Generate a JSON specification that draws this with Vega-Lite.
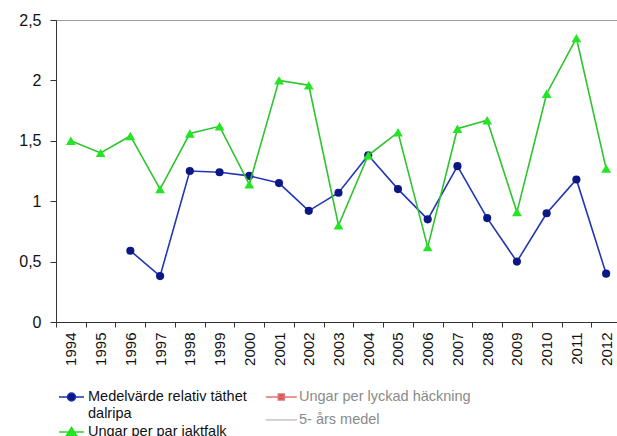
{
  "$schema": "https://vega.github.io/schema/vega-lite/v6.json",
  "width": 565,
  "height": 302,
  "autosize": {"type": "none"},
  "padding": {"left": 56, "top": 20, "right": -4, "bottom": 114},
  "background": "white",
  "config": {
    "font": "Liberation Sans",
    "view": {"stroke": "#a0a0a0", "strokeWidth": 1},
    "style": {"guide-label": {"lineHeight": 17}}
  },
  "resolve": {"scale": {"color": "independent", "shape": "independent", "stroke": "independent"}},
  "data": {
    "values": [
      {"year": "1996", "series": "Medelvärde relativ täthet dalripa", "value": 0.59},
      {"year": "1997", "series": "Medelvärde relativ täthet dalripa", "value": 0.38},
      {"year": "1998", "series": "Medelvärde relativ täthet dalripa", "value": 1.25},
      {"year": "1999", "series": "Medelvärde relativ täthet dalripa", "value": 1.24},
      {"year": "2000", "series": "Medelvärde relativ täthet dalripa", "value": 1.21},
      {"year": "2001", "series": "Medelvärde relativ täthet dalripa", "value": 1.15},
      {"year": "2002", "series": "Medelvärde relativ täthet dalripa", "value": 0.92},
      {"year": "2003", "series": "Medelvärde relativ täthet dalripa", "value": 1.07},
      {"year": "2004", "series": "Medelvärde relativ täthet dalripa", "value": 1.38},
      {"year": "2005", "series": "Medelvärde relativ täthet dalripa", "value": 1.10},
      {"year": "2006", "series": "Medelvärde relativ täthet dalripa", "value": 0.85},
      {"year": "2007", "series": "Medelvärde relativ täthet dalripa", "value": 1.29},
      {"year": "2008", "series": "Medelvärde relativ täthet dalripa", "value": 0.86},
      {"year": "2009", "series": "Medelvärde relativ täthet dalripa", "value": 0.50},
      {"year": "2010", "series": "Medelvärde relativ täthet dalripa", "value": 0.90},
      {"year": "2011", "series": "Medelvärde relativ täthet dalripa", "value": 1.18},
      {"year": "2012", "series": "Medelvärde relativ täthet dalripa", "value": 0.40},
      {"year": "1994", "series": "Ungar per par jaktfalk", "value": 1.50},
      {"year": "1995", "series": "Ungar per par jaktfalk", "value": 1.40},
      {"year": "1996", "series": "Ungar per par jaktfalk", "value": 1.54},
      {"year": "1997", "series": "Ungar per par jaktfalk", "value": 1.10},
      {"year": "1998", "series": "Ungar per par jaktfalk", "value": 1.56},
      {"year": "1999", "series": "Ungar per par jaktfalk", "value": 1.62},
      {"year": "2000", "series": "Ungar per par jaktfalk", "value": 1.14},
      {"year": "2001", "series": "Ungar per par jaktfalk", "value": 2.00},
      {"year": "2002", "series": "Ungar per par jaktfalk", "value": 1.96},
      {"year": "2003", "series": "Ungar per par jaktfalk", "value": 0.80},
      {"year": "2004", "series": "Ungar per par jaktfalk", "value": 1.38},
      {"year": "2005", "series": "Ungar per par jaktfalk", "value": 1.57},
      {"year": "2006", "series": "Ungar per par jaktfalk", "value": 0.62},
      {"year": "2007", "series": "Ungar per par jaktfalk", "value": 1.60},
      {"year": "2008", "series": "Ungar per par jaktfalk", "value": 1.67},
      {"year": "2009", "series": "Ungar per par jaktfalk", "value": 0.91},
      {"year": "2010", "series": "Ungar per par jaktfalk", "value": 1.89},
      {"year": "2011", "series": "Ungar per par jaktfalk", "value": 2.35},
      {"year": "2012", "series": "Ungar per par jaktfalk", "value": 1.27}
    ]
  },
  "layer": [
    {
      "transform": [{"filter": "datum.series == 'Medelvärde relativ täthet dalripa'"}],
      "mark": {"type": "line", "strokeWidth": 1.6, "color": "#2236b6"},
      "encoding": {
        "x": {
          "field": "year", "type": "ordinal",
          "scale": {"type": "band", "paddingInner": 0, "paddingOuter": 0,
            "domain": ["1994","1995","1996","1997","1998","1999","2000","2001","2002","2003","2004","2005","2006","2007","2008","2009","2010","2011","2012"]},
          "axis": {
            "title": null, "labelAngle": 270, "tickBand": "extent", "tickSize": 5,
            "labelPadding": 5, "labelFontSize": 15, "labelColor": "#111",
            "labelFont": "Liberation Sans", "domainColor": "#333", "tickColor": "#333",
            "grid": false
          }
        },
        "y": {
          "field": "value", "type": "quantitative",
          "scale": {"domain": [0, 2.5], "nice": false, "zero": true},
          "axis": {
            "title": null, "values": [0, 0.5, 1, 1.5, 2, 2.5],
            "labelExpr": "replace(format(datum.value, '~g'), '.', ',')",
            "tickSize": 6, "labelPadding": 9, "labelFontSize": 16, "labelColor": "#111",
            "labelFont": "Liberation Sans", "domainColor": "#333", "tickColor": "#333",
            "grid": false
          }
        }
      }
    },
    {
      "transform": [{"filter": "datum.series == 'Medelvärde relativ täthet dalripa'"}],
      "mark": {"type": "point", "shape": "circle", "filled": true, "opacity": 1, "color": "#0b1785", "size": 66, "strokeWidth": 0},
      "encoding": {
        "x": {"field": "year", "type": "ordinal"},
        "y": {"field": "value", "type": "quantitative"}
      }
    },
    {
      "transform": [{"filter": "datum.series == 'Ungar per par jaktfalk'"}],
      "mark": {"type": "line", "strokeWidth": 1.6, "color": "#2ec42e"},
      "encoding": {
        "x": {"field": "year", "type": "ordinal"},
        "y": {"field": "value", "type": "quantitative"}
      }
    },
    {
      "transform": [{"filter": "datum.series == 'Ungar per par jaktfalk'"}],
      "mark": {"type": "point", "shape": "triangle-up", "filled": true, "opacity": 1, "color": "#22e622", "size": 95, "strokeWidth": 0},
      "encoding": {
        "x": {"field": "year", "type": "ordinal"},
        "y": {"field": "value", "type": "quantitative"}
      }
    },
    {
      "transform": [{"filter": "false"}],
      "mark": {"type": "point", "filled": true, "opacity": 1, "strokeWidth": 1.5},
      "encoding": {
        "color": {
          "field": "series", "type": "nominal",
          "scale": {"domain": ["Medelvärde relativ täthet dalripa", "Ungar per par jaktfalk"], "range": ["#0b1785", "#22ee22"]},
          "legend": {
            "title": null, "orient": "none", "legendX": 4.5, "legendY": 366,
            "direction": "vertical", "padding": 0, "symbolSize": 400,
            "symbolStrokeWidth": 1.5, "symbolOpacity": 1,
            "labelFont": "Liberation Sans", "labelFontSize": 14.5, "labelColor": "#111",
            "labelOffset": 5.5, "labelLimit": 400, "rowPadding": 0,
            "labelExpr": "datum.label == 'Medelvärde relativ täthet dalripa' ? ['Medelvärde relativ täthet', 'dalripa'] : datum.label"
          }
        },
        "shape": {
          "field": "series", "type": "nominal",
          "scale": {"domain": ["Medelvärde relativ täthet dalripa", "Ungar per par jaktfalk"],
            "range": ["M-1.25,0H-0.4M0.4,0H1.25M0.4,0A0.4,0.4 0 1,1 -0.4,0A0.4,0.4 0 1,1 0.4,0Z", "M-1.25,0H1.25M0,-0.45L0.5,0.35L-0.5,0.35Z"]},
          "legend": {"title": null}
        },
        "stroke": {
          "field": "series", "type": "nominal",
          "scale": {"domain": ["Medelvärde relativ täthet dalripa", "Ungar per par jaktfalk"], "range": ["#1a30b4", "#22dd22"]},
          "legend": {"title": null}
        }
      }
    },
    {
      "data": {"values": [
        {"series2": "Ungar per lyckad häckning"},
        {"series2": "5- års medel"}
      ]},
      "transform": [{"filter": "false"}],
      "mark": {"type": "point", "filled": true, "opacity": 1, "strokeWidth": 1.5},
      "encoding": {
        "color": {
          "field": "series2", "type": "nominal",
          "scale": {"domain": ["Ungar per lyckad häckning", "5- års medel"], "range": ["#d04a4a", "transparent"]},
          "legend": {
            "title": null, "orient": "none", "legendX": 214.3, "legendY": 366,
            "direction": "vertical", "padding": 0, "symbolSize": 400,
            "symbolStrokeWidth": 1.5, "symbolOpacity": 1,
            "labelFont": "Liberation Sans", "labelFontSize": 14.5, "labelColor": "#8a8a8a",
            "labelOffset": 6.7, "labelLimit": 400, "rowPadding": 4.9
          }
        },
        "shape": {
          "field": "series2", "type": "nominal",
          "scale": {"domain": ["Ungar per lyckad häckning", "5- års medel"],
            "range": ["M-1.55,0H1.55M-0.3,-0.3H0.3V0.3H-0.3Z", "M-1.55,0H1.55"]},
          "legend": {"title": null}
        },
        "stroke": {
          "field": "series2", "type": "nominal",
          "scale": {"domain": ["Ungar per lyckad häckning", "5- års medel"], "range": ["#e07474", "#c4c4c4"]},
          "legend": {"title": null}
        }
      }
    }
  ]
}
